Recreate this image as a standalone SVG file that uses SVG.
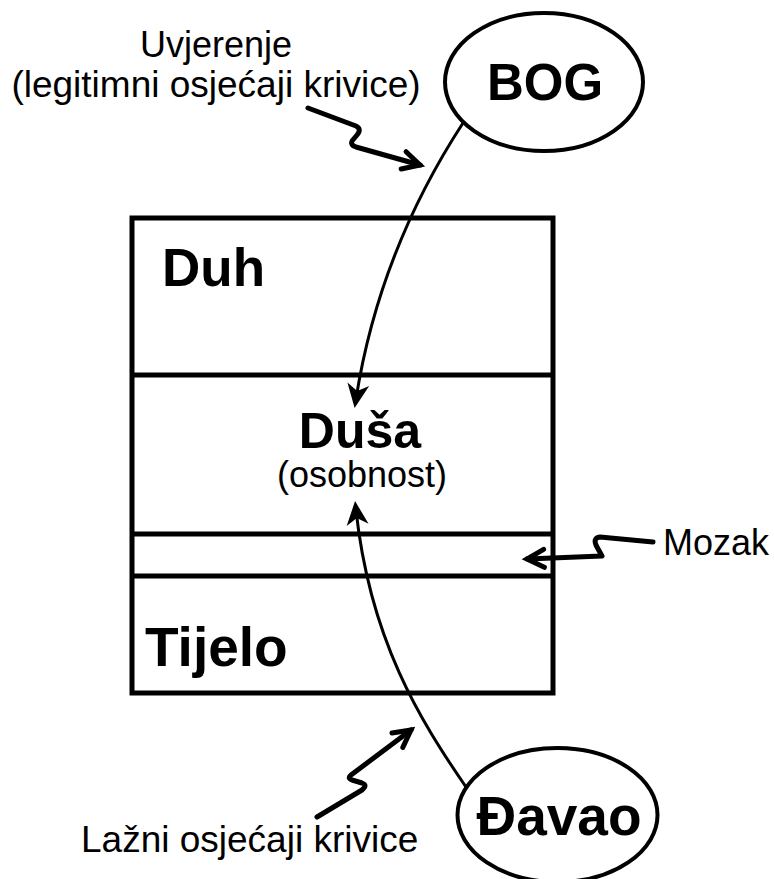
<svg xmlns="http://www.w3.org/2000/svg" width="774" height="879" viewBox="0 0 774 879">
<style>
.t{font-family:"Liberation Sans",Arial,sans-serif;fill:#000}
.b{font-weight:bold}
.box{fill:#fff;stroke:#000;stroke-width:5}
.div{stroke:#000;stroke-width:5}
.ell{fill:#fff;stroke:#000;stroke-width:4}
.curve{fill:none;stroke:#000;stroke-width:3}
.zig{fill:none;stroke:#000;stroke-width:5;stroke-linejoin:round;stroke-linecap:round}
</style>
<defs>
<marker id="head" markerUnits="userSpaceOnUse" orient="auto" markerWidth="40" markerHeight="40" refX="0" refY="0" viewBox="-20 -20 40 40" overflow="visible">
<path d="M9,0 L-15,-11 L-8,0 L-15,11 Z" fill="#000"/>
</marker>
<marker id="vee" markerUnits="userSpaceOnUse" orient="auto" markerWidth="40" markerHeight="40" refX="0" refY="0" viewBox="-20 -20 40 40" overflow="visible">
<path d="M-17,-9 L0,0 L-17,9" fill="none" stroke="#000" stroke-width="5" stroke-linejoin="miter" stroke-linecap="round"/>
</marker>
</defs>
<g id="person">
<rect class="box" x="132" y="218" width="421" height="475"/>
<line class="div" x1="132" y1="375" x2="553" y2="375"/>
<line class="div" x1="132" y1="534" x2="553" y2="534"/>
<line class="div" x1="132" y1="576" x2="553" y2="576"/>
</g>
<g id="duh"><text class="t b" x="162" y="286" font-size="53">Duh</text></g>
<g id="dusa">
<text class="t b" x="360" y="448" font-size="50" text-anchor="middle">Duša</text>
<text class="t" x="362" y="487" font-size="36" text-anchor="middle">(osobnost)</text>
</g>
<g id="tijelo"><text class="t b" x="145" y="666" font-size="55">Tijelo</text></g>
<g id="bog">
<ellipse class="ell" cx="544" cy="82" rx="99" ry="69"/>
<text class="t b" x="545" y="100" font-size="51" text-anchor="middle">BOG</text>
</g>
<g id="davao">
<ellipse class="ell" cx="557.5" cy="815" rx="100" ry="67"/>
<text class="t b" x="559" y="835" font-size="55" text-anchor="middle">Đavao</text>
</g>
<g id="labels">
<text class="t" x="216" y="57" font-size="36" text-anchor="middle">Uvjerenje</text>
<text class="t" x="216" y="97" font-size="37" text-anchor="middle">(legitimni osjećaji krivice)</text>
<text class="t" x="663" y="555" font-size="36">Mozak</text>
<text class="t" x="81" y="852" font-size="37">Lažni osjećaji krivice</text>
</g>
<g id="connectors">
<path class="curve" d="M463,123 Q379,252 356,399" marker-end="url(#head)"/>
<path class="curve" d="M466,787 C420,720 370,640 356,510" marker-end="url(#head)"/>
<path class="zig" d="M308,108 L356,126 Q362,129 357,135 L352,141 Q350,145 356,147 L420,165" marker-end="url(#vee)"/>
<path class="zig" d="M317,817 L362,790 Q368,785 362,783 L352,780 Q347,778 351,775 L411,730" marker-end="url(#vee)"/>
<path class="zig" d="M653,542 L600,537 Q592,538 597,547 L602,556 L527,559" marker-end="url(#vee)"/>
</g>
</svg>
